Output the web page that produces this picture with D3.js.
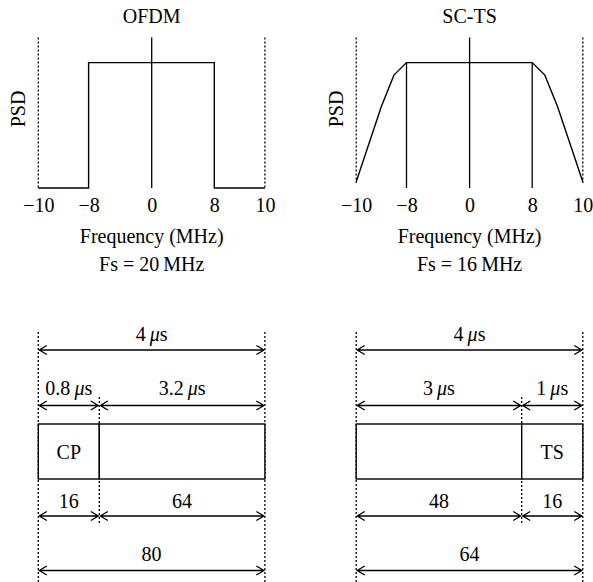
<!DOCTYPE html>
<html>
<head>
<meta charset="utf-8">
<script src="https://cdn.jsdelivr.net/npm/d3@7"></script>
<style>
  body { margin: 0; background: #fff; }
  svg { display: block; }
</style>
</head>
<body>
<div id="chart"></div>
<script>
  // Spectrum data
  const freqTicks = [-10, -8, 0, 8, 10];
  const ofdmFreq = [-10, -8, -8, 8, 8, 10];
  const ofdmPsd = [0, 0, 1, 1, 0, 0];
  const sctsFreq = [-10, -9, -8.5, -8, 8, 8.5, 9, 10];
  const sctsPsd = [0.05, 0.65, 0.9, 1, 1, 0.9, 0.65, 0.05];
  const sctsEdges = [-8, 8];

  // Frame structure data
  const ofdmSamples = [16, 64];
  const ofdmTimes = ["0.8", "3.2"];
  const ofdmBlocks = ["CP", ""];
  const sctsSamples = [48, 16];
  const sctsTimes = ["3", "1"];
  const sctsBlocks = ["", "TS"];
  const symbolTime = "4";

  const FONT = "'Liberation Serif', 'Times New Roman', serif";
  const FS = 20;
  const W = 593, H = 582;

  const svg = d3.select("#chart").append("svg")
    .attr("width", W).attr("height", H)
    .style("font-family", FONT)
    .style("font-size", FS + "px");

  // schematic (non-linear) frequency axis, same for both panels
  const xRel = [0, 50.3, 113.4, 176, 226.6];
  const y = d3.scaleLinear().domain([0, 1.2]).range([188, 37.5]);

  function drawSpectrum(x0, title, freq, psd, edges, fsText, dottedBottom) {
    const x = d3.scaleLinear().domain(freqTicks).range(xRel.map(d => d + x0));
    const g = svg.append("g");
    const xMid = x(0);

    g.append("text").attr("x", xMid).attr("y", 22.5)
      .attr("text-anchor", "middle").text(title);

    // dotted limits at +-10
    [-10, 10].forEach(f => {
      g.append("line")
        .attr("x1", x(f)).attr("x2", x(f))
        .attr("y1", y(1.2)).attr("y2", y(dottedBottom))
        .attr("stroke", "#000").attr("stroke-width", 1.3)
        .attr("stroke-dasharray", "2,2");
    });

    // vertical axis at 0
    g.append("line")
      .attr("x1", xMid).attr("x2", xMid)
      .attr("y1", y(1.2)).attr("y2", y(0))
      .attr("stroke", "#000").attr("stroke-width", 1.3);

    edges.forEach(f => {
      g.append("line")
        .attr("x1", x(f)).attr("x2", x(f))
        .attr("y1", y(1)).attr("y2", y(0))
        .attr("stroke", "#000").attr("stroke-width", 1.3);
    });

    const line = d3.line().x(d => x(d[0])).y(d => y(d[1]));
    g.append("path")
      .attr("d", line(d3.zip(freq, psd)))
      .attr("fill", "none").attr("stroke", "#000").attr("stroke-width", 1.4)
      .attr("stroke-linejoin", "miter");

    const ax = g.append("g")
      .attr("transform", `translate(0,${y(0)})`)
      .call(d3.axisBottom(x).tickValues(freqTicks).tickSize(0).tickPadding(10)
        .tickFormat(d3.format("d")));
    ax.select(".domain").remove();
    ax.attr("font-family", FONT).attr("font-size", FS);
    ax.selectAll("text").attr("fill", "#000");

    g.append("text")
      .attr("transform", `translate(${x0 - 13},109) rotate(-90)`)
      .attr("text-anchor", "middle").text("PSD");

    g.append("text").attr("x", xMid).attr("y", 242.5)
      .attr("text-anchor", "middle").text("Frequency (MHz)");
    g.append("text").attr("x", xMid).attr("y", 270.5)
      .attr("text-anchor", "middle").text(fsText);
  }

  function usText(sel, num) {
    sel.text(null);
    sel.append("tspan").text(num + "\u2009");
    sel.append("tspan").attr("font-style", "italic").text("\u03bc");
    sel.append("tspan").text("s");
  }

  function arrow(g, xa, xb, yy) {
    const a = xa + 1, b = xb - 1;
    const p = d3.path();
    p.moveTo(a, yy); p.lineTo(b, yy);
    p.moveTo(a + 7.5, yy - 4.5); p.lineTo(a, yy); p.lineTo(a + 7.5, yy + 4.5);
    p.moveTo(b - 7.5, yy - 4.5); p.lineTo(b, yy); p.lineTo(b - 7.5, yy + 4.5);
    g.append("path").attr("d", p.toString())
      .attr("fill", "none").attr("stroke", "#000").attr("stroke-width", 1.3);
  }

  function drawFrame(x0, samples, times, blocks, splitRel) {
    const total = d3.sum(samples);
    const x = d3.scaleLinear()
      .domain([0, samples[0], total])
      .range([x0, x0 + splitRel, x0 + 226.6]);
    const g = svg.append("g");
    const bounds = [0, samples[0], total];

    // dotted guides
    [0, total].forEach(s => {
      g.append("line")
        .attr("x1", x(s)).attr("x2", x(s)).attr("y1", 332).attr("y2", H)
        .attr("stroke", "#000").attr("stroke-width", 1.3).attr("stroke-dasharray", "2,2");
    });
    g.append("line")
      .attr("x1", x(samples[0])).attr("x2", x(samples[0])).attr("y1", 397).attr("y2", 523)
      .attr("stroke", "#000").attr("stroke-width", 1.3).attr("stroke-dasharray", "2,2");

    // total time
    arrow(g, x(0), x(total), 350);
    g.append("text").attr("x", (x(0) + x(total)) / 2).attr("y", 340.5)
      .attr("text-anchor", "middle").call(usText, symbolTime);

    // segments
    samples.forEach((s, i) => {
      const a = x(bounds[i]), b = x(bounds[i + 1]), m = (a + b) / 2;
      arrow(g, a, b, 405.5);
      g.append("text").attr("x", m).attr("y", 394.5)
        .attr("text-anchor", "middle").call(usText, times[i]);

      g.append("rect")
        .attr("x", a).attr("y", 424).attr("width", b - a).attr("height", 55)
        .attr("fill", "#fff").attr("stroke", "#000").attr("stroke-width", 1.4);
      if (blocks[i]) {
        g.append("text").attr("x", m).attr("y", 458.5)
          .attr("text-anchor", "middle").text(blocks[i]);
      }

      arrow(g, a, b, 516);
      g.append("text").attr("x", m).attr("y", 508)
        .attr("text-anchor", "middle").text(s);
    });

    arrow(g, x(0), x(total), 570.5);
    g.append("text").attr("x", (x(0) + x(total)) / 2).attr("y", 561)
      .attr("text-anchor", "middle").text(total);
  }

  drawSpectrum(38.3, "OFDM", ofdmFreq, ofdmPsd, [], "Fs = 20\u2009MHz", 0);
  drawSpectrum(356.2, "SC-TS", sctsFreq, sctsPsd, sctsEdges, "Fs = 16\u2009MHz", 0.04);

  drawFrame(38.3, ofdmSamples, ofdmTimes, ofdmBlocks, 61);
  drawFrame(356.2, sctsSamples, sctsTimes, sctsBlocks, 165.5);
</script>
</body>
</html>
